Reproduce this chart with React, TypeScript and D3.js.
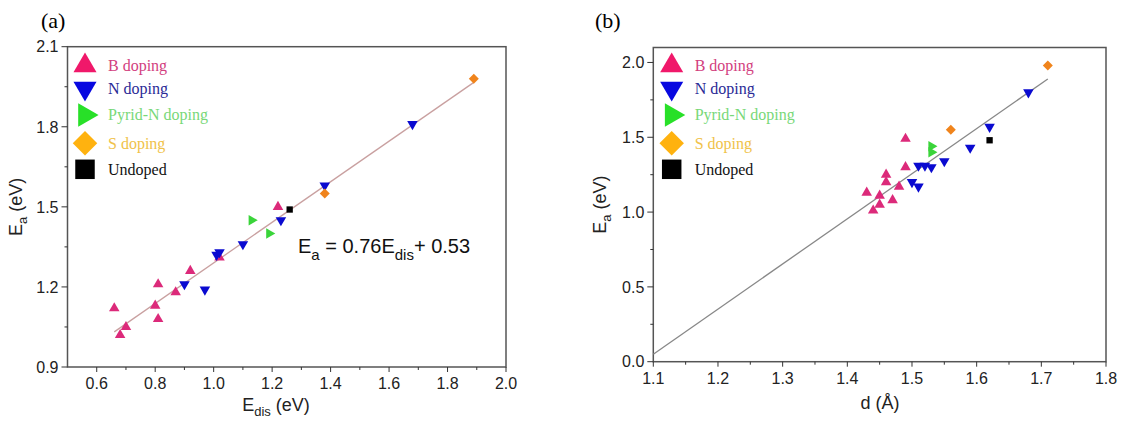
import React from "react";
import * as d3 from "d3";

// ---- panel (a): Ea vs Edis ----
const aBDoping: [number, number][] = [
  [0.66, 1.12], [0.68, 1.02], [0.7, 1.05], [0.8, 1.13], [0.81, 1.21],
  [0.81, 1.08], [0.87, 1.18], [0.92, 1.26], [1.02, 1.31], [1.22, 1.5],
];
const aNDoping: [number, number][] = [
  [0.9, 1.21], [0.97, 1.19], [1.01, 1.32], [1.02, 1.33], [1.1, 1.36],
  [1.23, 1.45], [1.38, 1.58], [1.68, 1.81],
];
const aPyridN: [number, number][] = [[1.13, 1.45], [1.19, 1.4]];
const aSDoping: [number, number][] = [[1.38, 1.55], [1.89, 1.98]];
const aUndoped: [number, number][] = [[1.26, 1.49]];
const aFitSlope = 0.76;
const aFitIntercept = 0.53;
const aFitRange = [0.66, 1.89];
const aXTicks = [0.6, 0.8, 1.0, 1.2, 1.4, 1.6, 1.8, 2.0];
const aXMinor = [0.7, 0.9, 1.1, 1.3, 1.5, 1.7, 1.9];
const aYTicks = [0.9, 1.2, 1.5, 1.8, 2.1];
const aYMinor = [1.05, 1.35, 1.65, 1.95];

// ---- panel (b): Ea vs d ----
const bBDoping: [number, number][] = [
  [1.49, 1.49], [1.49, 1.3], [1.46, 1.25], [1.46, 1.2], [1.48, 1.17],
  [1.43, 1.13], [1.45, 1.11], [1.47, 1.08], [1.45, 1.05], [1.44, 1.01],
];
const bNDoping: [number, number][] = [
  [1.68, 1.8], [1.62, 1.57], [1.59, 1.43], [1.51, 1.31], [1.52, 1.31],
  [1.53, 1.3], [1.55, 1.34], [1.5, 1.2], [1.51, 1.17],
];
const bPyridN: [number, number][] = [[1.53, 1.44], [1.53, 1.4]];
const bSDoping: [number, number][] = [[1.56, 1.55], [1.71, 1.98]];
const bUndoped: [number, number][] = [[1.62, 1.48]];
const bFitLine: [number, number][] = [[1.1, 0.05], [1.71, 1.89]];
const bXTicks = [1.1, 1.2, 1.3, 1.4, 1.5, 1.6, 1.7, 1.8];
const bXMinor = [1.15, 1.25, 1.35, 1.45, 1.55, 1.65, 1.75];
const bYTicks = [0, 0.5, 1.0, 1.5, 2.0];
const bYMinor = [0.25, 0.75, 1.25, 1.75];

const legendNames = ["B doping", "N doping", "Pyrid-N doping", "S doping", "Undoped"];

const sans = "'Liberation Sans', Arial, sans-serif";
const serif = "'Liberation Serif', 'Times New Roman', serif";

const markerColor = ["#dc2a7a", "#0a0ad0", "#3ad43a", "#f0841c", "#000"];
const legendMarkerColor = ["#f0186a", "#0808e0", "#28e028", "#ffb20f", "#000"];
const legendTextColor = ["#d2407e", "#2a2a96", "#78d878", "#f0c24a", "#111"];

// kind: 0 up tri, 1 down tri, 2 right tri, 3 diamond, 4 square
const symbolPath = (kind: number, size: number) => {
  const type = kind <= 2 ? d3.symbolTriangle : d3.symbolSquare;
  return d3.symbol().type(type).size(size)() as string;
};
const symbolRot = [0, 180, 90, 45, 0];

const Marker = ({ kind, x, y, size, color }: any) => (
  <path
    d={symbolPath(kind, size)}
    transform={`translate(${x},${y}) rotate(${symbolRot[kind]})`}
    fill={color}
  />
);

const Panel = ({ cfg }: any) => {
  const x = d3.scaleLinear().domain(cfg.xDomain).range(cfg.xRange);
  const y = d3.scaleLinear().domain(cfg.yDomain).range(cfg.yRange);
  const [x0, x1] = cfg.xRange;
  const [y0, y1] = cfg.yRange;
  const line = d3.line<[number, number]>().x((d) => x(d[0])).y((d) => y(d[1]));
  const sizes = [48, 48, 48, 50, 40];
  const legendSizes = [230, 230, 240, 300, 380];
  return (
    <g>
      <text x={cfg.labelX} y={28} fontFamily={serif} fontSize={22}>{cfg.label}</text>
      <rect x={x0} y={y1} width={x1 - x0} height={y0 - y1} fill="none" stroke="#555" strokeWidth={1.5} />
      {cfg.xTicks.map((t: number) => (
        <g key={"xt" + t}>
          <line x1={x(t)} x2={x(t)} y1={y0} y2={y0 + 5} stroke="#333" />
          <text x={x(t)} y={y0 + 22} textAnchor="middle" fontFamily={sans} fontSize={16} fill="#222">
            {cfg.xFmt(t)}
          </text>
        </g>
      ))}
      {cfg.xMinor.map((t: number) => (
        <line key={"xm" + t} x1={x(t)} x2={x(t)} y1={y0} y2={y0 + 3} stroke="#333" />
      ))}
      {cfg.yTicks.map((t: number) => (
        <g key={"yt" + t}>
          <line x1={x0 - 6} x2={x0} y1={y(t)} y2={y(t)} stroke="#333" />
          <text x={x0 - 9} y={y(t)} dy="0.36em" textAnchor="end" fontFamily={sans} fontSize={16} fill="#222">
            {cfg.yFmt(t)}
          </text>
        </g>
      ))}
      {cfg.yMinor.map((t: number) => (
        <line key={"ym" + t} x1={x0 - 3} x2={x0} y1={y(t)} y2={y(t)} stroke="#333" />
      ))}
      <path d={line(cfg.fit) as string} fill="none" stroke={cfg.fitColor} strokeWidth={1.3} />
      {cfg.series.map((s: [number, number][], k: number) =>
        s.map((d, i) => (
          <Marker key={k + "-" + i} kind={k} x={x(d[0])} y={y(d[1])} size={sizes[k]} color={markerColor[k]} />
        ))
      )}
      {legendNames.map((n, k) => (
        <g key={n}>
          <Marker kind={k} x={cfg.legendX} y={cfg.legendY[k]} size={legendSizes[k]} color={legendMarkerColor[k]} />
          <text x={cfg.legendX + 23} y={cfg.legendY[k]} dy="0.33em" fontFamily={serif} fontSize={16} fill={legendTextColor[k]}>
            {n}
          </text>
        </g>
      ))}
      <text transform={`translate(${cfg.yTitleX},${(y0 + y1) / 2}) rotate(-90)`} textAnchor="middle" fontFamily={sans} fontSize={18} fill="#222">
        E<tspan dy={5} fontSize={13}>a</tspan><tspan dy={-5}> (eV)</tspan>
      </text>
      {cfg.xTitle}
    </g>
  );
};

const fmt1 = (t: number) => t.toFixed(1);

export default function App() {
  const aCfg = {
    label: "(a)", labelX: 41,
    xDomain: [0.5, 2.0], xRange: [67.5, 506],
    yDomain: [0.9, 2.1], yRange: [367, 46.7],
    xTicks: aXTicks, xMinor: aXMinor, yTicks: aYTicks, yMinor: aYMinor,
    xFmt: fmt1, yFmt: fmt1,
    fit: aFitRange.map((v) => [v, aFitSlope * v + aFitIntercept]),
    fitColor: "#c9a0a0",
    series: [aBDoping, aNDoping, aPyridN, aSDoping, aUndoped],
    legendX: 85, legendY: [65.7, 88.3, 115, 143.3, 169.3],
    yTitleX: 22,
    xTitle: (
      <text x={276} y={411} textAnchor="middle" fontFamily={sans} fontSize={18} fill="#222">
        E<tspan dy={5} fontSize={13}>dis</tspan><tspan dy={-5}> (eV)</tspan>
      </text>
    ),
  };
  const bCfg = {
    label: "(b)", labelX: 595,
    xDomain: [1.1, 1.8], xRange: [653.3, 1106],
    yDomain: [0, 2.1], yRange: [361.7, 47.5],
    xTicks: bXTicks, xMinor: bXMinor, yTicks: bYTicks, yMinor: bYMinor,
    xFmt: fmt1, yFmt: fmt1,
    fit: bFitLine, fitColor: "#888",
    series: [bBDoping, bNDoping, bPyridN, bSDoping, bUndoped],
    legendX: 671.7, legendY: [65.7, 88.3, 115, 143.3, 169.3],
    yTitleX: 606,
    xTitle: (
      <text x={880} y={409} textAnchor="middle" fontFamily={sans} fontSize={18} fill="#222">
        d (Å)
      </text>
    ),
  };
  return (
    <svg width={1122} height={421} style={{ position: "absolute", left: 0, top: 0, background: "#fff" }}>
      <rect width={1122} height={421} fill="#fff" />
      <Panel cfg={aCfg} />
      <Panel cfg={bCfg} />
      <text x={298} y={252.5} fontFamily={sans} fontSize={20} fill="#111">
        E<tspan dy={7} fontSize={15}>a</tspan>
        <tspan dy={-7}> = 0.76E</tspan>
        <tspan dy={7} fontSize={15}>dis</tspan>
        <tspan dy={-7}>+ 0.53</tspan>
      </text>
    </svg>
  );
}
